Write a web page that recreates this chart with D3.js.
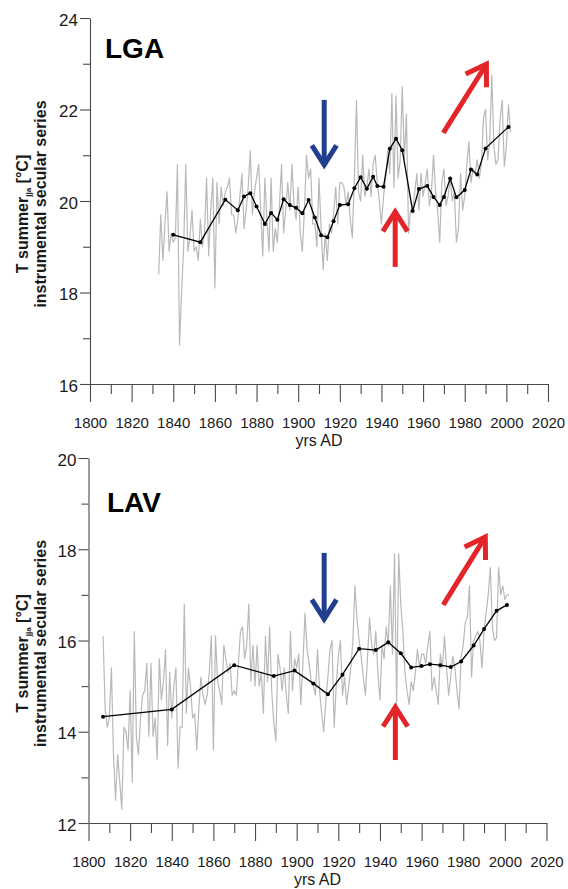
<!DOCTYPE html>
<html><head><meta charset="utf-8">
<script src="https://cdn.jsdelivr.net/npm/d3@7"></script>
<style>
html,body{margin:0;padding:0;background:#fff;}
svg{display:block;font-family:"Liberation Sans",Arial,sans-serif;}
</style></head>
<body>
<svg id="chart" width="568" height="889"></svg>
<script>
// ---------- DATA ----------
const xTickLabels = [1800,1820,1840,1860,1880,1900,1920,1940,1960,1980,2000,2020];
const xMinorTicks = [1810,1830,1850,1870,1890,1910,1930,1950,1970,1990,2010];

const lgaName = "LGA";
const lgaYTicks = [16,18,20,22,24];
const lgaYMinor = [17,19,21,23];
const lgaFirstYear = 1833;
const lgaAnnual = [
 18.4,19.7,18.7,19.5,20.2,18.9,19.3,
 19.1,19.2,20.8,16.85,18.0,19.0,20.8,18.9,19.2,19.8,
 18.9,19.0,18.7,19.6,19.0,19.3,20.5,18.8,19.8,20.5,
 18.1,20.4,19.5,20.3,19.9,20.2,20.3,20.5,19.7,19.7,
 19.3,19.6,20.1,20.6,19.4,19.8,20.3,21.1,19.7,20.2,
 20.5,20.8,19.8,18.8,20.5,19.6,18.9,20.5,18.9,19.4,
 19.1,19.9,20.8,19.3,19.8,20.4,19.8,20.8,19.9,19.6,
 20.3,19.3,18.9,19.8,21.0,20.5,20.7,19.5,19.5,19.0,
 20.5,19.4,18.5,19.3,18.7,19.5,19.3,19.7,20.3,19.5,
 20.4,20.4,20.3,19.9,20.2,19.6,19.2,20.5,22.2,20.2,
 20.0,21.0,20.1,20.3,20.7,20.1,20.8,21.0,20.4,20.0,
 19.5,20.1,20.5,21.1,20.6,22.35,20.3,22.3,20.5,20.9,
 22.5,20.9,21.9,19.3,19.8,19.8,20.2,20.6,19.8,20.6,
 20.1,20.4,20.7,19.9,20.2,21.0,20.2,19.8,19.1,20.4,
 20.7,19.9,20.1,20.5,20.0,20.2,19.1,19.4,20.6,19.8,
 20.1,20.8,21.3,20.4,20.7,20.6,20.9,20.5,20.8,21.8,
 22.0,20.9,21.3,22.75,21.2,20.8,20.9,21.8,22.2,20.75,
 21.2,22.1,21.5
];
const lgaSmoothYears = [1840,1853,1865,1871,1874,1877,1880,1884,1887,1890,1893,1896,1899,1902,1905,1908,1911,1914,1917,1920,1924,1927,1930,1933,1936,1938,1941,1944,1947,1950,1955,1958,1962,1965,1968,1970,1973,1976,1980,1983,1986,1990,2001];
const lgaSmoothValues = [19.26,19.10,20.03,19.80,20.10,20.17,19.88,19.50,19.74,19.59,20.04,19.91,19.85,19.73,20.02,19.64,19.25,19.21,19.56,19.91,19.93,20.28,20.52,20.27,20.53,20.33,20.31,21.14,21.36,21.11,19.78,20.26,20.33,20.09,19.91,20.09,20.49,20.08,20.24,20.69,20.58,21.15,21.62];
// arrows: [x1year, y1, x2year, y2] (tail -> tip), in data units
const lgaArrows = [
 {color:"blue", from:[1912.5,22.21], to:[1912.5,20.79]},
 {color:"red",  from:[1946.6,18.56], to:[1946.6,19.76]},
 {color:"red",  from:[1969.7,21.49], to:[1990.4,22.99]}
];

const lavName = "LAV";
const lavYTicks = [12,14,16,18,20];
const lavYMinor = [13,15,17,19];
const lavFirstYear = 1807;
const lavAnnual = [
 16.1,14.5,14.1,
 14.3,15.4,13.5,12.5,13.5,12.9,12.3,14.1,14.0,13.6,
 14.9,12.9,16.2,13.9,13.5,14.3,14.8,14.9,15.5,13.9,
 15.5,13.9,14.3,13.4,15.6,14.7,15.1,15.8,13.7,15.3,
 14.3,15.0,15.4,13.2,14.1,14.1,16.8,14.4,15.4,15.0,
 14.3,14.4,13.6,14.5,15.2,14.8,14.6,14.8,15.3,16.1,
 13.6,16.1,15.1,14.9,14.6,15.9,15.6,15.3,15.5,14.8,
 14.9,14.8,15.5,16.2,16.3,15.6,15.9,16.8,15.1,15.9,
 15.0,15.9,15.0,15.3,14.4,16.1,15.1,16.3,14.9,14.2,
 13.8,15.7,15.4,14.9,15.4,14.8,14.4,16.2,14.9,15.6,
 15.4,15.7,14.6,15.5,16.6,15.8,15.5,15.1,15.0,14.8,
 15.8,14.9,14.4,14.0,14.7,15.2,15.8,16.0,14.1,15.0,
 15.65,16.0,14.8,15.2,14.6,15.0,15.4,16.0,17.2,16.45,
 16.0,15.65,15.2,14.8,15.6,16.5,15.9,15.7,16.2,15.3,
 14.7,15.9,15.6,16.3,15.9,17.2,15.7,17.9,14.55,17.9,
 16.8,16.2,15.3,14.9,14.6,15.1,14.9,15.3,15.8,15.4,
 15.7,15.7,15.5,15.9,16.2,14.9,15.2,14.9,14.6,15.7,
 15.4,16.1,15.4,14.8,15.2,15.65,15.4,14.9,14.5,15.65,
 15.9,16.4,16.5,17.2,15.2,16.0,16.1,16.2,16.0,15.4,
 16.2,16.6,17.0,17.6,16.3,16.0,16.05,17.6,17.0,17.2,
 16.9,17.0,17.0
];
const lavSmoothYears = [1807,1840,1870,1889,1899,1908,1915,1922,1930,1938,1944,1950,1955,1960,1964,1969,1974,1979,1985,1990,1996,2001];
const lavSmoothValues = [14.33,14.49,15.46,15.22,15.34,15.06,14.82,15.25,15.82,15.79,15.96,15.72,15.41,15.44,15.48,15.46,15.42,15.54,15.89,16.25,16.65,16.78];
const lavArrows = [
 {color:"blue", from:[1913.2,17.92], to:[1913.2,16.47]},
 {color:"red",  from:[1947.4,13.38], to:[1947.4,14.54]},
 {color:"red",  from:[1970.4,16.78], to:[1990.6,18.27]}
];

const yTitle1 = "T summer";
const yTitleSub = "jja";
const yTitle1b = " [°C]";
const yTitle2 = "instrumental secular series";
const xTitle = "yrs AD";

// ---------- DRAW ----------
const svg = d3.select("#chart");
const colors = {blue:"#213f8e", red:"#e42528", grey:"#b9b9b9", axis:"#4a4a4a", text:"#1a1a1a"};

function panel(cfg){
  const g = svg.append("g");
  const x = d3.scaleLinear().domain([1800,2020]).range([cfg.left, cfg.right]);
  const y = d3.scaleLinear().domain(cfg.yDomain).range([cfg.bottom, cfg.top]);

  // x axis major
  const xa = g.append("g").attr("transform",`translate(0,${cfg.bottom})`)
    .call(d3.axisBottom(x).tickValues(xTickLabels).tickSize(18).tickSizeOuter(0).tickFormat(d3.format("d")));
  const xm = g.append("g").attr("transform",`translate(0,${cfg.bottom})`)
    .call(d3.axisBottom(x).tickValues(xMinorTicks).tickSize(10).tickSizeOuter(0).tickFormat(""));
  xm.select(".domain").remove();
  // y axis
  const ya = g.append("g").attr("transform",`translate(${cfg.left},0)`)
    .call(d3.axisLeft(y).tickValues(cfg.yTicks).tickSize(10).tickSizeOuter(0).tickFormat(d3.format("d")));
  const ym = g.append("g").attr("transform",`translate(${cfg.left},0)`)
    .call(d3.axisLeft(y).tickValues(cfg.yMinor).tickSize(7).tickSizeOuter(0).tickFormat(""));
  ym.select(".domain").remove();

  [xa,xm,ya,ym].forEach(a=>{
    a.selectAll("path.domain").attr("stroke",colors.axis).attr("stroke-width",1.1);
    a.selectAll(".tick line").attr("stroke",colors.axis).attr("stroke-width",1.1);
  });
  xa.selectAll(".tick text").attr("y",44).attr("dy",0).attr("font-size",15).attr("fill",colors.text)
    .attr("font-family","Liberation Sans, Arial, sans-serif");
  ya.selectAll(".tick text").attr("x",-12).attr("dy","0.42em").attr("font-size",17).attr("fill",colors.text)
    .attr("font-family","Liberation Sans, Arial, sans-serif");

  // x title
  g.append("text").attr("x",(cfg.left+cfg.right)/2).attr("y",cfg.bottom+62)
    .attr("text-anchor","middle").attr("font-size",16).attr("fill",colors.text).text(xTitle);

  // y title
  const cy = (cfg.top+cfg.bottom)/2;
  const t1 = g.append("text").attr("transform",`translate(28,${cy+13}) rotate(-90)`)
    .attr("text-anchor","middle").attr("font-size",16).attr("font-weight","bold").attr("fill",colors.text);
  t1.append("tspan").text(yTitle1);
  t1.append("tspan").attr("font-size",8).attr("dy",3).text(yTitleSub);
  t1.append("tspan").attr("dy",-3).text(yTitle1b);
  g.append("text").attr("transform",`translate(46,${cy+3}) rotate(-90)`)
    .attr("text-anchor","middle").attr("font-size",16).attr("font-weight","bold").attr("fill",colors.text)
    .text(yTitle2);

  // panel name
  g.append("text").attr("x",cfg.nameX).attr("y",cfg.nameY).attr("font-size",28).attr("font-weight","bold")
    .attr("fill","#000").text(cfg.name);

  // grey annual series
  const annual = cfg.annual.map((v,i)=>({year:cfg.firstYear+i, v}));
  g.append("path").datum(annual)
    .attr("d", d3.line().x(d=>x(d.year)).y(d=>y(d.v)))
    .attr("fill","none").attr("stroke",colors.grey).attr("stroke-width",1.2).attr("stroke-linejoin","round");

  // smoothed black series
  const sm = cfg.smoothYears.map((yr,i)=>({year:yr, v:cfg.smoothValues[i]}));
  g.append("path").datum(sm)
    .attr("d", d3.line().x(d=>x(d.year)).y(d=>y(d.v)))
    .attr("fill","none").attr("stroke","#000").attr("stroke-width",1.3);
  g.selectAll("circle.pt").data(sm).join("circle").attr("class","pt")
    .attr("cx",d=>x(d.year)).attr("cy",d=>y(d.v)).attr("r",2).attr("fill","#000");

  // arrows
  cfg.arrows.forEach(a=>{
    const x1=x(a.from[0]), y1=y(a.from[1]), x2=x(a.to[0]), y2=y(a.to[1]);
    const ang = Math.atan2(y2-y1, x2-x1);
    const hl = 23, ha = Math.PI*0.18;
    const p1=[x2 - hl*Math.cos(ang-ha), y2 - hl*Math.sin(ang-ha)];
    const p2=[x2 - hl*Math.cos(ang+ha), y2 - hl*Math.sin(ang+ha)];
    const c = colors[a.color];
    g.append("line").attr("x1",x1).attr("y1",y1).attr("x2",x2).attr("y2",y2)
      .attr("stroke",c).attr("stroke-width",5);
    g.append("path").attr("d",`M${p1[0]},${p1[1]}L${x2},${y2}L${p2[0]},${p2[1]}`)
      .attr("fill","none").attr("stroke",c).attr("stroke-width",5).attr("stroke-linejoin","miter");
  });
}

panel({left:90,right:548,top:18,bottom:384,yDomain:[16,24],yTicks:lgaYTicks,yMinor:lgaYMinor,
  annual:lgaAnnual,firstYear:lgaFirstYear,smoothYears:lgaSmoothYears,smoothValues:lgaSmoothValues,
  arrows:lgaArrows,name:lgaName,nameX:105,nameY:58});
panel({left:88.5,right:546.5,top:458,bottom:823,yDomain:[12,20],yTicks:lavYTicks,yMinor:lavYMinor,
  annual:lavAnnual,firstYear:lavFirstYear,smoothYears:lavSmoothYears,smoothValues:lavSmoothValues,
  arrows:lavArrows,name:lavName,nameX:107,nameY:512});
</script>
</body></html>
